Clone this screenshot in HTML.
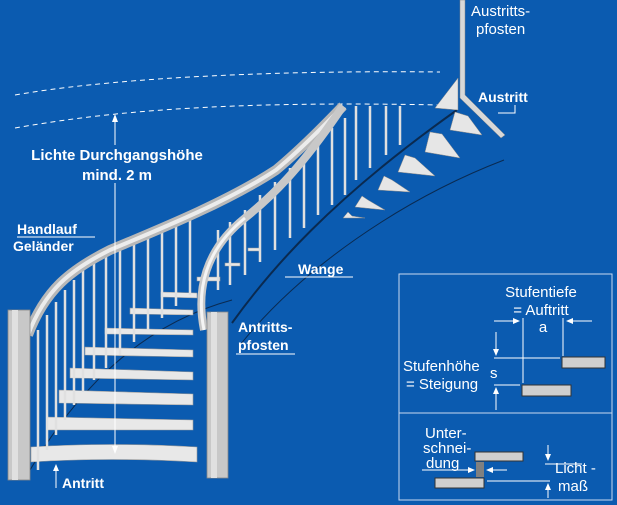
<!DOCTYPE html>
<html><head><meta charset="utf-8"><style>
html,body{margin:0;padding:0;background:#0b5bb0;}
svg{display:block}
text{font-family:"Liberation Sans",sans-serif;fill:#fff}
.b{font-weight:bold;font-size:14px}
.n{font-size:15px}
</style></head><body>
<svg width="617" height="505" viewBox="0 0 617 505" xmlns="http://www.w3.org/2000/svg">
<rect width="617" height="505" fill="#0b5bb0"/>
<path d="M15,95 C100,80 250,70 440,72" stroke="#fff" stroke-width="1" fill="none" stroke-dasharray="5,4"/>
<path d="M15,128 C90,115 200,100 440,105" stroke="#fff" stroke-width="1" fill="none" stroke-dasharray="5,4"/>
<path d="M232,323 C270,270 330,200 457,110" stroke="#0a2a50" stroke-width="2" fill="none"/>
<path d="M240,345 C300,270 400,200 504,160" stroke="#0a2a50" stroke-width="1" fill="none"/>
<path d="M30,470 C60,420 120,330 232,300" stroke="#0a2a50" stroke-width="1" fill="none"/>
<g fill="#e6e6e6" stroke="#8a8a8a" stroke-width="0.5">
<polygon points="435,108 458,78 458,110"/>
<polygon points="455,112 468,116 482,135 450,130"/>
<polygon points="430,132 442,134 460,158 425,152"/>
<polygon points="405,155 415,158 435,176 398,172"/>
<polygon points="384,176 392,180 410,192 378,190"/>
<polygon points="362,196 368,200 385,210 355,207"/>
<polygon points="348,212 352,216 365,218 343,218"/>
</g>
<path d="M460,0 L465,0 L465,95 L505,135 L501,138 L460,98 Z" fill="#d8d8d8" stroke="#888" stroke-width="0.5"/>
<g fill="#e8e8e8" stroke="#9a9a9a" stroke-width="0.6">
<path d="M31,447 Q110,442 197,447 L197,462 Q110,457 31,462 Z"/>
<path d="M47,417 L193,420 L193,430 L47,430 Z"/>
<path d="M59,390 L193,394 L193,405 L59,403 Z"/>
<path d="M70,368 L193,372 L193,380 L70,378 Z"/>
<path d="M85,347 L193,350 L193,357 L85,355 Z"/>
<path d="M105,328 L193,330 L193,335 L105,334 Z"/>
<path d="M130,308 L193,310 L193,315 L130,314 Z"/>
<path d="M161,292 L197,293 L197,298 L161,297 Z"/>
<path d="M197,277 L220,277 L220,281 L197,281 Z"/>
<path d="M225,263 L240,263 L240,266 L225,266 Z"/>
<path d="M248,248 L260,248 L260,251 L248,251 Z"/>
</g>
<g stroke="#e0e0e0" stroke-width="2.5">
<line x1="38" y1="330" x2="38" y2="470"/><line x1="47" y1="315" x2="47" y2="450"/>
<line x1="56" y1="302" x2="56" y2="435"/><line x1="65" y1="290" x2="65" y2="420"/>
<line x1="74" y1="280" x2="74" y2="405"/><line x1="83" y1="270" x2="83" y2="392"/>
<line x1="94" y1="258" x2="94" y2="380"/><line x1="106" y1="250" x2="106" y2="368"/>
<line x1="120" y1="245" x2="120" y2="355"/><line x1="134" y1="240" x2="134" y2="342"/>
<line x1="148" y1="234" x2="148" y2="330"/><line x1="162" y1="228" x2="162" y2="318"/>
<line x1="176" y1="222" x2="176" y2="306"/><line x1="190" y1="216" x2="190" y2="295"/>
<line x1="218" y1="230" x2="218" y2="290"/><line x1="230" y1="222" x2="230" y2="285"/>
<line x1="245" y1="210" x2="245" y2="275"/><line x1="260" y1="195" x2="260" y2="262"/>
<line x1="275" y1="182" x2="275" y2="250"/><line x1="290" y1="168" x2="290" y2="238"/>
<line x1="304" y1="155" x2="304" y2="228"/><line x1="318" y1="140" x2="318" y2="215"/>
<line x1="332" y1="128" x2="332" y2="205"/><line x1="345" y1="118" x2="345" y2="195"/>
<line x1="356" y1="106" x2="356" y2="180"/><line x1="370" y1="106" x2="370" y2="168"/>
<line x1="386" y1="106" x2="386" y2="155"/><line x1="400" y1="106" x2="400" y2="145"/>
</g>
<path d="M28,335 C45,290 70,270 110,250 C170,225 230,200 276,170 C300,150 320,130 343,106" stroke="#b8b8b8" stroke-width="10" fill="none"/>
<path d="M28,335 C45,290 70,270 110,250 C170,225 230,200 276,170 C300,150 320,130 343,106" stroke="#ececec" stroke-width="4" fill="none"/>
<path d="M204,330 C196,290 205,250 245,218 C270,198 300,170 343,106" stroke="#c8c8c8" stroke-width="8" fill="none"/>
<path d="M204,330 C196,290 205,250 245,218" stroke="#f4f4f4" stroke-width="3" fill="none"/>
<rect x="8" y="310" width="22" height="170" fill="#c8c8c8" stroke="#888" stroke-width="0.8"/>
<rect x="12" y="310" width="6" height="170" fill="#e0e0e0"/>
<rect x="207" y="312" width="21" height="166" fill="#c8c8c8" stroke="#888" stroke-width="0.8"/>
<rect x="211" y="312" width="6" height="166" fill="#e0e0e0"/>
<line x1="115" y1="118" x2="115" y2="450" stroke="#fff" stroke-width="1"/>
<polygon points="115,114 112,122 118,122" fill="#fff"/>
<polygon points="115,454 112,446 118,446" fill="#fff"/>
<rect x="20" y="145" width="194" height="38" fill="#0b5bb0"/>
<text class="b" x="117" y="160" text-anchor="middle" style="font-size:15px">Lichte Durchgangshöhe</text>
<text class="b" x="117" y="180" text-anchor="middle" style="font-size:15px">mind. 2 m</text>
<text class="b" x="17" y="234">Handlauf</text>
<line x1="17" y1="237" x2="95" y2="237" stroke="#fff"/>
<text class="b" x="13" y="251">Geländer</text>
<text class="b" x="298" y="274">Wange</text>
<line x1="285" y1="277" x2="353" y2="277" stroke="#fff"/>
<text class="b" x="238" y="332">Antritts-</text>
<text class="b" x="238" y="350">pfosten</text>
<line x1="236" y1="354" x2="295" y2="354" stroke="#fff"/>
<line x1="56" y1="468" x2="56" y2="488" stroke="#fff"/>
<polygon points="56,464 53,471 59,471" fill="#fff"/>
<text class="b" x="62" y="488">Antritt</text>
<text class="n" x="471" y="16">Austritts-</text>
<text class="n" x="476" y="34">pfosten</text>
<text class="b" x="478" y="102">Austritt</text>
<polyline points="515,105 515,113 498,113" fill="none" stroke="#fff"/>
<rect x="399" y="274" width="213" height="226" fill="none" stroke="#c8d8f0" stroke-width="1"/>
<line x1="399" y1="413" x2="612" y2="413" stroke="#c8d8f0"/>
<text class="n" x="541" y="297" text-anchor="middle">Stufentiefe</text>
<text class="n" x="541" y="315" text-anchor="middle">= Auftritt</text>
<text class="n" x="543" y="332" text-anchor="middle">a</text>
<text class="n" x="403" y="371">Stufenhöhe</text>
<text class="n" x="406" y="389">= Steigung</text>
<text class="n" x="490" y="378">s</text>
<g stroke="#fff" stroke-width="1" fill="none">
<line x1="523" y1="318" x2="523" y2="383"/><line x1="563" y1="318" x2="563" y2="356"/>
<line x1="494" y1="321" x2="514" y2="321"/><line x1="572" y1="321" x2="592" y2="321"/>
<line x1="494" y1="358" x2="560" y2="358"/><line x1="494" y1="385" x2="520" y2="385"/>
<line x1="496" y1="332" x2="496" y2="352"/><line x1="496" y1="390" x2="496" y2="410"/>
<line x1="545" y1="464" x2="582" y2="464"/><line x1="487" y1="481" x2="550" y2="481"/>
<line x1="422" y1="470" x2="472" y2="470"/><line x1="490" y1="470" x2="507" y2="470"/>
<line x1="548" y1="445" x2="548" y2="458"/><line x1="548" y1="485" x2="548" y2="498"/>
</g>
<g fill="#fff">
<polygon points="520,321 513,318 513,324"/><polygon points="566,321 573,318 573,324"/>
<polygon points="496,356 493,349 499,349"/><polygon points="496,387 493,394 499,394"/>
<polygon points="475,470 468,467 468,473"/><polygon points="486,470 493,467 493,473"/>
<polygon points="548,461 545,454 551,454"/><polygon points="548,483 545,490 551,490"/>
</g>
<g fill="#cfcfcf" stroke="#333" stroke-width="1">
<rect x="562" y="357" width="43" height="11"/>
<rect x="522" y="385" width="49" height="11"/>
<rect x="475" y="452" width="48" height="9"/>
<rect x="435" y="478" width="49" height="10"/>
</g>
<rect x="476" y="462" width="8" height="15" fill="#808080"/>
<text class="n" x="425" y="438">Unter-</text>
<text class="n" x="423" y="453">schnei-</text>
<text class="n" x="426" y="468">dung</text>
<text class="n" x="555" y="473">Licht -</text>
<text class="n" x="558" y="491">maß</text>
</svg>
</body></html>
